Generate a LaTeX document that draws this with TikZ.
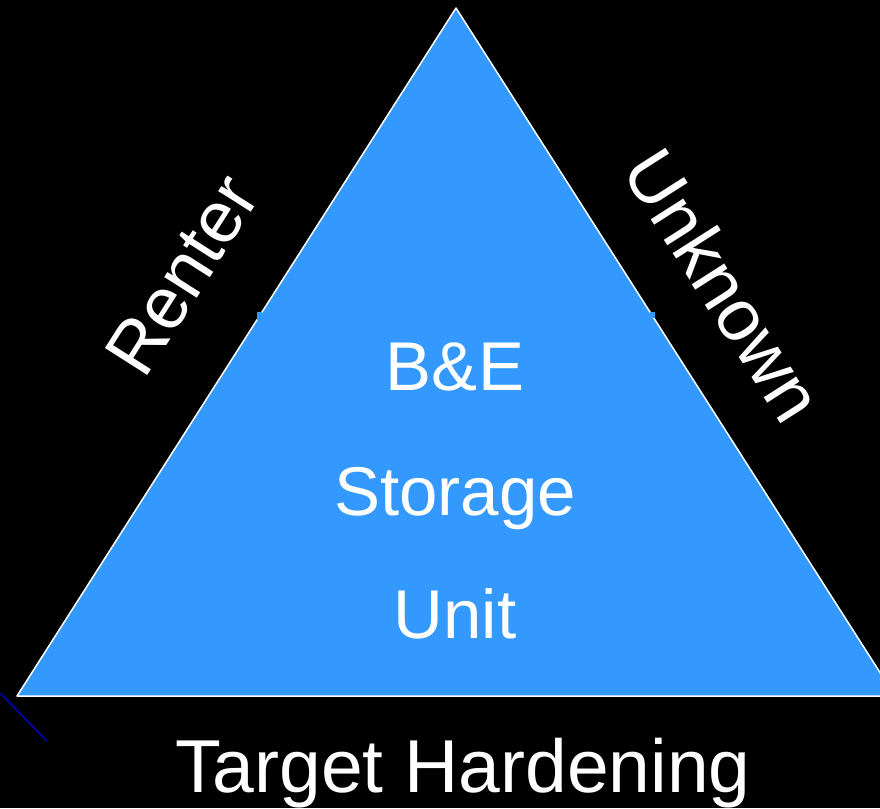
\documentclass[tikz,border=0pt]{standalone}
\usepackage{fontspec}
\setmainfont{Liberation Sans}
\definecolor{unitblue}{HTML}{3399FF}
\definecolor{markblue}{HTML}{000099}
\begin{document}
\begin{tikzpicture}[x=1pt, y=-1pt, line join=round,
	lbl/.style={text=white, inner sep=0pt, font=\fontsize{69}{80}\selectfont},
	side/.style={lbl, font=\fontsize{73}{80}\selectfont}]
			\def\W{880}\def\H{808}
			\fill[black] (0,0) rectangle (\W,\H);
			\useasboundingbox (0,0) rectangle (\W,\H);
			\clip (0,0) rectangle (\W,\H);
			% triangle
			\coordinate (top) at (456,8);
			\coordinate (bl) at (17,696);
			\coordinate (br) at (895,696);
			\draw[white, fill=unitblue, line width=1.5pt] (top)--(br)--(bl)--cycle;
			\fill[unitblue] (257,312) rectangle (262,320);
			\fill[unitblue] (650,312) rectangle (655,318);
			\coordinate (m1) at (0,693);
			\coordinate (m2) at (47,741);
			\draw[markblue, line width=2pt] (m1)--(m2);
			% labels
			\node[lbl, anchor=base] (be) at (455,390) {B\&E};
			\node[lbl, anchor=base] (storage) at (455,515) {Storage};
			\node[lbl, anchor=base] (unit) at (455,638) {Unit};
			\node[side, rotate=57.5] (renter) at (182,275) {Renter};
			\node[side, rotate=-57.5] (unknown) at (724,285) {Unknown};
			\node[lbl, anchor=base, font=\fontsize{75}{80}\selectfont] (target) at (463,792) {Target Hardening};
	\end{tikzpicture}
\end{document}
